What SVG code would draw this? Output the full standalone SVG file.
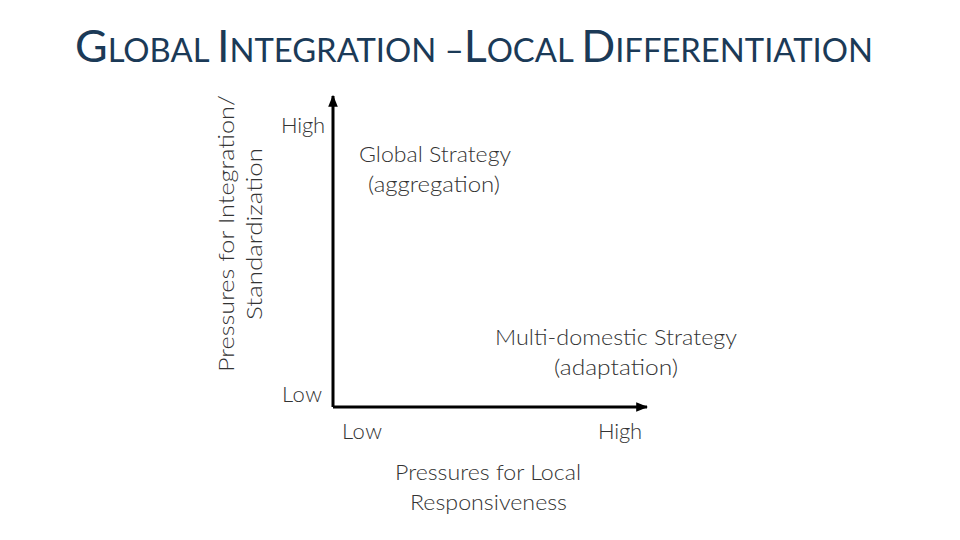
<svg xmlns="http://www.w3.org/2000/svg" width="960" height="540" viewBox="0 0 960 540">
<style>
.t{font-family:Lato,"Open Sans","Liberation Sans",sans-serif;font-weight:300;font-size:22px;fill:#333;}
.ttl{font-family:Lato,"Open Sans","Liberation Sans",sans-serif;fill:#1B3A57;}
.ax{stroke:#000;stroke-width:3;fill:none;}
</style>
<defs>
<marker id="ah" viewBox="0 0 10 10" refX="9" refY="5" markerWidth="4" markerHeight="4" orient="auto" markerUnits="strokeWidth">
<path d="M0,1 L10,5 L0,9 z" fill="#000"/>
</marker>
</defs>
<rect width="960" height="540" fill="#fff"/>
<text class="ttl" x="75" y="62" textLength="798" lengthAdjust="spacingAndGlyphs"><tspan font-size="45">G</tspan><tspan font-size="33">LOBAL </tspan><tspan font-size="45">I</tspan><tspan font-size="33">NTEGRATION –</tspan><tspan font-size="45">L</tspan><tspan font-size="33">OCAL </tspan><tspan font-size="45">D</tspan><tspan font-size="33">IFFERENTIATION</tspan></text>
<g id="connectors">
<line class="ax" x1="333" y1="407" x2="333" y2="96" marker-end="url(#ah)"/>
<line class="ax" x1="333" y1="407" x2="647" y2="407" marker-end="url(#ah)"/>
</g>
<g id="y-axis-label">
<text class="t" transform="translate(234,372) rotate(-90)" textLength="277" lengthAdjust="spacingAndGlyphs">Pressures for  Integration/</text>
<text class="t" transform="translate(262,320) rotate(-90)" textLength="172" lengthAdjust="spacingAndGlyphs">Standardization</text>
</g>
<g id="y-ticks">
<text class="t" x="281" y="133" textLength="44">High</text>
<text class="t" x="282" y="402" textLength="40">Low</text>
</g>
<g id="x-ticks">
<text class="t" x="342" y="439" textLength="40">Low</text>
<text class="t" x="598" y="439" textLength="44">High</text>
</g>
<g id="global-strategy">
<text class="t" x="359" y="162" textLength="152" lengthAdjust="spacingAndGlyphs">Global Strategy</text>
<text class="t" x="368" y="192" textLength="132" lengthAdjust="spacingAndGlyphs">(aggregation)</text>
</g>
<g id="multidomestic-strategy">
<text class="t" x="495" y="345" textLength="242" lengthAdjust="spacingAndGlyphs">Multi-domestic Strategy</text>
<text class="t" x="554" y="375" textLength="124" lengthAdjust="spacingAndGlyphs">(adaptation)</text>
</g>
<g id="x-axis-label">
<text class="t" x="395" y="480" textLength="186" lengthAdjust="spacingAndGlyphs">Pressures for Local</text>
<text class="t" x="410" y="510" textLength="157" lengthAdjust="spacingAndGlyphs">Responsiveness</text>
</g>
</svg>
